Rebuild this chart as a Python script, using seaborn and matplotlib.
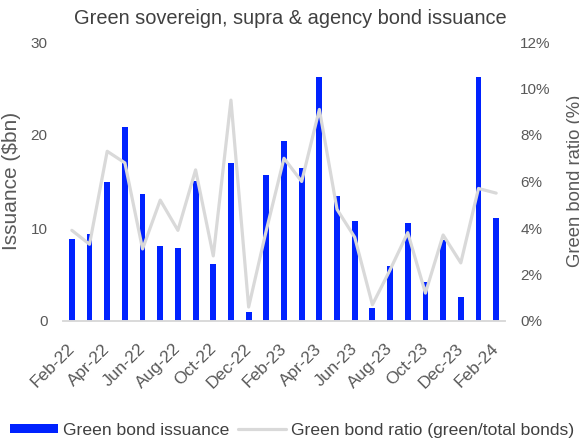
import matplotlib
matplotlib.use("Agg")
import matplotlib.pyplot as plt
import matplotlib.transforms as mtransforms
import seaborn as sns
import numpy as np
import pandas as pd
from matplotlib.patches import Patch
from matplotlib.lines import Line2D
from matplotlib.ticker import FuncFormatter

months = ["Feb-22", "Mar-22", "Apr-22", "May-22", "Jun-22", "Jul-22", "Aug-22",
          "Sep-22", "Oct-22", "Nov-22", "Dec-22", "Jan-23", "Feb-23", "Mar-23",
          "Apr-23", "May-23", "Jun-23", "Jul-23", "Aug-23", "Sep-23", "Oct-23",
          "Nov-23", "Dec-23", "Jan-24", "Feb-24"]
issuance = [8.8, 9.4, 14.9, 20.9, 13.7, 8.1, 7.9, 15.1, 6.1, 17.0, 1.0, 15.7,
            19.4, 16.4, 26.2, 13.4, 10.8, 1.4, 5.9, 10.5, 4.2, 8.7, 2.6, 26.2, 11.1]
ratio = [3.9, 3.3, 7.3, 6.8, 3.1, 5.2, 3.9, 6.5, 2.8, 9.5, 0.6, 3.9, 7.0, 6.0,
         9.1, 4.8, 3.6, 0.7, 2.2, 3.8, 1.2, 3.7, 2.5, 5.7, 5.5]

title = "Green sovereign, supra & agency bond issuance"
bar_label = "Green bond issuance"
line_label = "Green bond ratio (green/total bonds)"

sns.set_theme(style="white")
plt.rcParams['font.family'] = ['Liberation Sans', 'DejaVu Sans']

TXT = "#595959"
BLUE = "#0022FF"
GREY = "#D9D9D9"

df = pd.DataFrame({"month": months, "issuance": issuance,
                   "ratio": ratio, "pos": np.arange(len(months))})

W, H = 579, 440
fig = plt.figure(figsize=(W / 100, H / 100), dpi=100)
ax = fig.add_axes([63 / W, 1 - 321 / H, (505 - 63) / W, (321 - 42) / H])

sns.barplot(data=df, x="month", y="issuance", color=BLUE, width=0.33,
            saturation=1, ax=ax, edgecolor="none")
ax.set_xlim(-0.5, len(months) - 0.5)
ax.set_ylim(0, 30)
ax.set_yticks([0, 10, 20, 30])
ax.set_xlabel("")
ax.set_ylabel("")

ax2 = ax.twinx()
sns.lineplot(data=df, x="pos", y="ratio", color=GREY, linewidth=2.3, ax=ax2)
ax2.set_ylim(0, 12)
ax2.set_yticks([0, 2, 4, 6, 8, 10, 12])
ax2.yaxis.set_major_formatter(FuncFormatter(lambda v, p: f"{v:.0f}%"))
ax2.set_ylabel("")
ax2.set_xlabel("")
ax2.set_xlim(-0.5, len(months) - 0.5)

for a in (ax, ax2):
    for s in ("top", "left", "right"):
        a.spines[s].set_visible(False)
    a.spines["bottom"].set_color(GREY)
    a.spines["bottom"].set_linewidth(1.2)
    a.tick_params(axis="both", length=0, colors=TXT, labelsize=11)
    a.grid(False)
ax.tick_params(axis="y", pad=11)
ax2.tick_params(axis="y", pad=11)

ticks = list(range(0, len(months), 2))
ax.set_xticks(ticks)
ax.set_xticklabels([months[i] for i in ticks], rotation=45, ha="right",
                   rotation_mode="anchor", color=TXT, fontsize=12.5)
ax.tick_params(axis="x", pad=14.5)
shift = mtransforms.ScaledTranslation(-5 / 100, 0, fig.dpi_scale_trans)
for lbl in ax.get_xticklabels():
    lbl.set_transform(lbl.get_transform() + shift)

fig.text(290.5 / W, 1 - 18 / H, title, ha="center", va="center",
         fontsize=14.4, color="#404040")
fig.text(12 / W, 1 - 181 / H, "Issuance ($bn)", rotation=90, ha="center",
         va="center", fontsize=15, color=TXT)
fig.text(575 / W, 1 - 181 / H, "Green bond ratio (%)", rotation=90,
         ha="center", va="center", fontsize=13.3, color=TXT)

handles = [Patch(facecolor=BLUE, edgecolor="none", label=bar_label),
           Line2D([0], [0], color=GREY, linewidth=2.3, label=line_label)]
fig.legend(handles=handles, loc="center left", bbox_to_anchor=(10 / W, 1 - 430 / H),
           ncol=2, frameon=False, fontsize=12.6, handlelength=2.75,
           handleheight=0.45, handletextpad=0.3, columnspacing=0.45,
           labelcolor="#404040", borderaxespad=0, borderpad=0)

fig.savefig("out.png", dpi=100)
